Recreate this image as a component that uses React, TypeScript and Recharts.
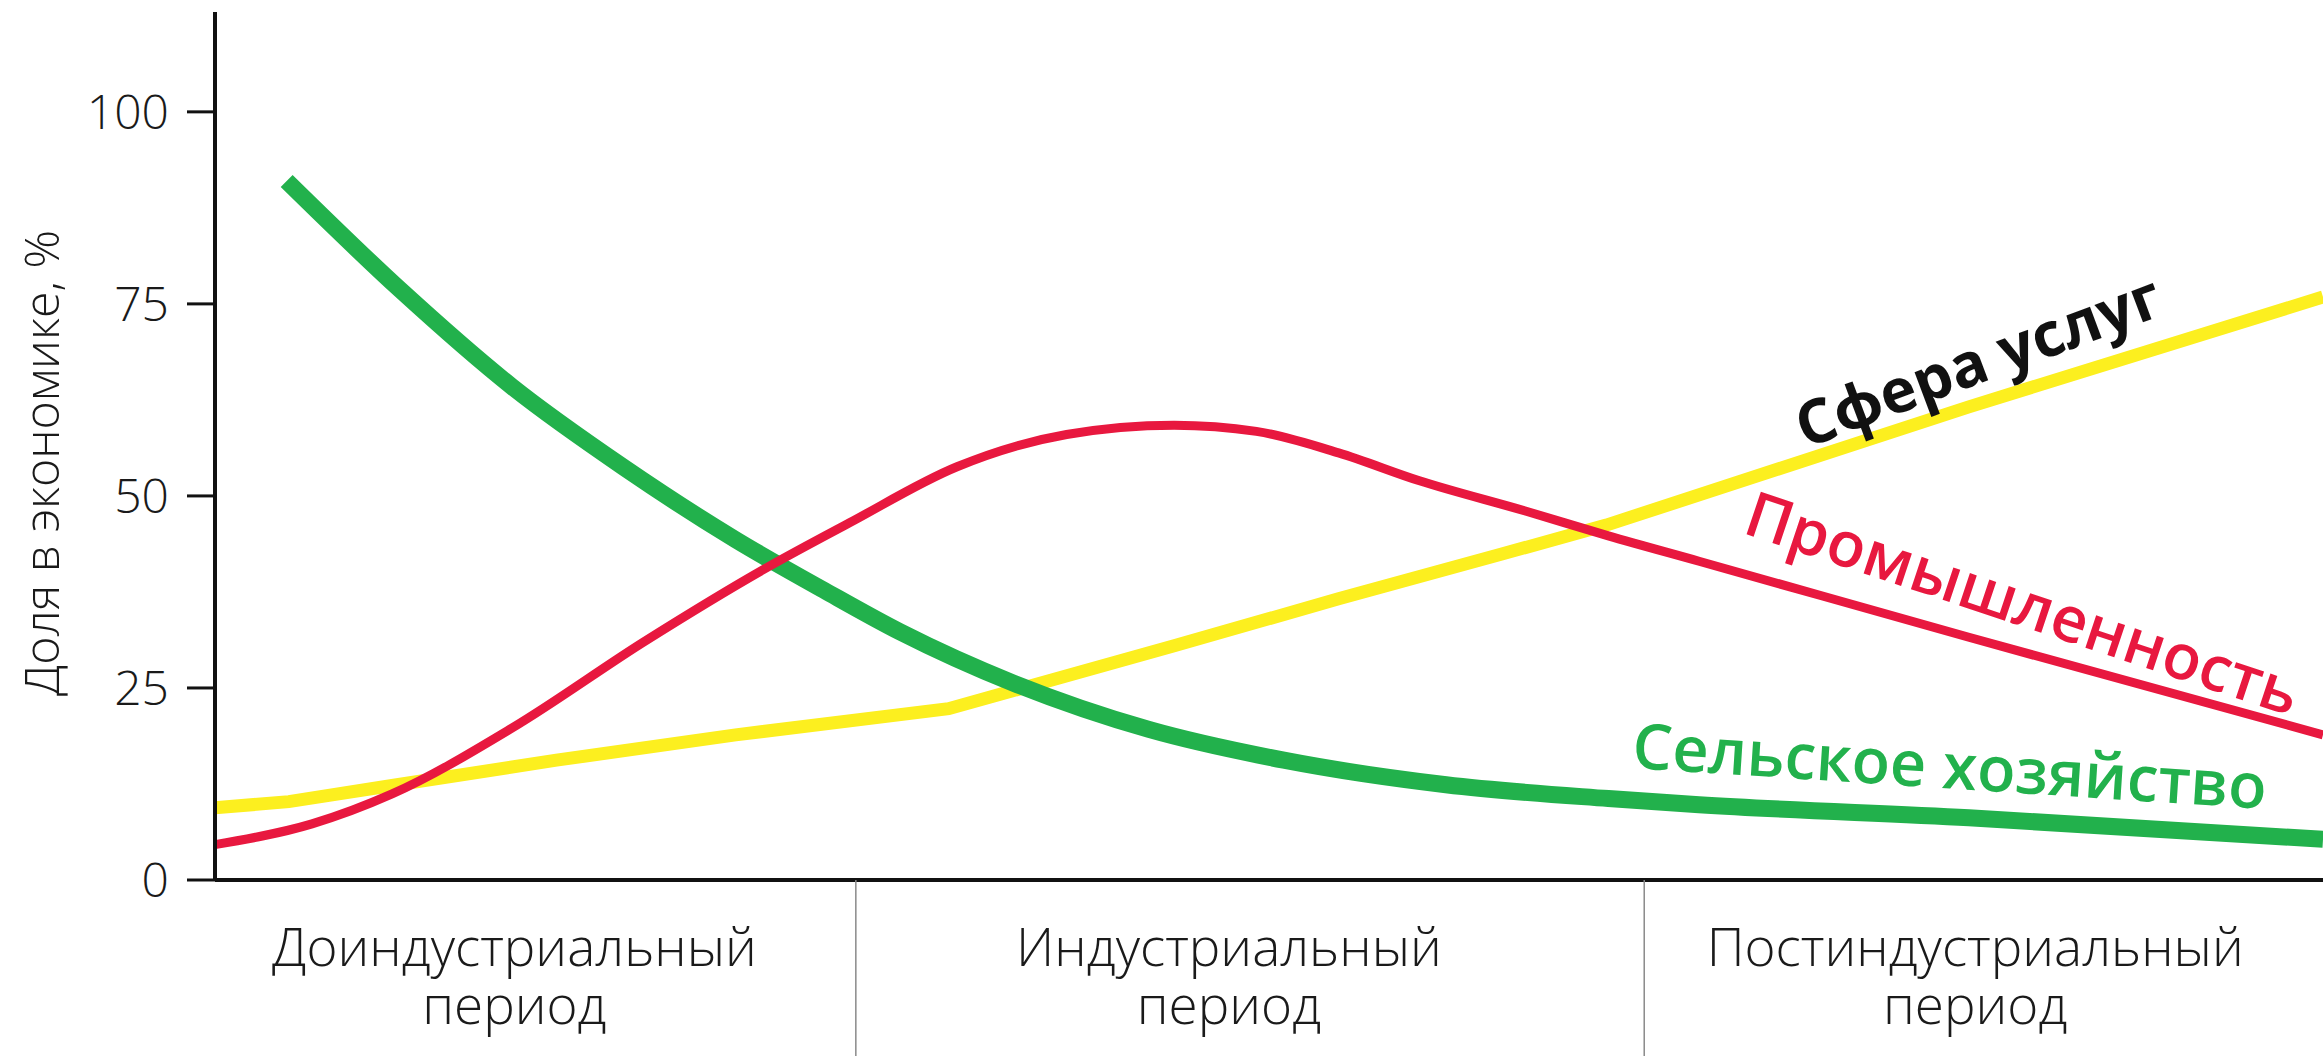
import { LineChart, Line, XAxis, YAxis, ReferenceDot } from "recharts";

document.body.style.margin = "0";
document.body.style.overflow = "hidden";

// values; x runs 0..100 across the three periods
const agriculture = [
  { x: 3.4, v: 91 }, { x: 8.8, v: 76.8 }, { x: 14.1, v: 64.2 }, { x: 19.4, v: 53.7 },
  { x: 24.7, v: 44.3 }, { x: 28.9, v: 37.7 }, { x: 32.5, v: 32.3 }, { x: 37.9, v: 25.6 },
  { x: 44.3, v: 19.6 }, { x: 50.7, v: 15.6 }, { x: 58.4, v: 12.4 }, { x: 66.1, v: 10.6 },
  { x: 70.4, v: 9.8 }, { x: 83.2, v: 8.1 }, { x: 100, v: 5.3 },
];

const industry = [
  { x: 0, v: 4.6 }, { x: 4.6, v: 7.3 }, { x: 8.4, v: 11.2 }, { x: 14.1, v: 19.8 },
  { x: 20.4, v: 31.1 }, { x: 26.2, v: 40.7 }, { x: 30.1, v: 46.5 }, { x: 35.2, v: 53.8 },
  { x: 40.4, v: 58 }, { x: 45.5, v: 59.2 }, { x: 49.4, v: 58.4 }, { x: 53.3, v: 55.6 },
  { x: 57.1, v: 52 }, { x: 62.2, v: 48 }, { x: 66.1, v: 44.8 }, { x: 70.4, v: 41.5 },
  { x: 83.2, v: 31.6 }, { x: 100, v: 18.9 },
];

const services = [
  { x: 0, v: 9.4 }, { x: 3.5, v: 10.2 }, { x: 8.4, v: 12.3 }, { x: 16.2, v: 15.6 },
  { x: 24.7, v: 18.9 }, { x: 34.8, v: 22.3 }, { x: 45.5, v: 30.5 },
  { x: 53.3, v: 36.6 }, { x: 61, v: 42.4 }, { x: 66, v: 46.2 }, { x: 83.2, v: 61.6 },
  { x: 100, v: 75.9 },
];

const yTicks = [0, 25, 50, 75, 100];
const periodCenters = [14.2, 48.1, 83.5];
const periodLabels = [
  ["Доиндустриальный", "период"],
  ["Индустриальный", "период"],
  ["Постиндустриальный", "период"],
];
const periodBorders = [30.4, 67.8];

const seriesNames = ["Сфера услуг", "Промышленность", "Сельское хозяйство"];

const GREEN = "#22b14c";
const RED = "#e8183f";
const YELLOW = "#fcef1f";
const LIGHT = "'Open Sans', 'DejaVu Sans', sans-serif";

function PeriodTick(props: any) {
  const { x, y, payload } = props;
  const i = periodCenters.indexOf(payload.value);
  if (i < 0) {
    return <line x1={x} x2={x} y1={y} y2={y + 180} stroke="#8a8a8a" strokeWidth={1.5} />;
  }
  const common = { x, textAnchor: "middle" as const, fontFamily: LIGHT, fontWeight: 300, fontSize: 53, fill: "#1a1a1a" };
  return (
    <g>
      <text {...common} y={y + 86}>{periodLabels[i][0]}</text>
      <text {...common} y={y + 144}>{periodLabels[i][1]}</text>
    </g>
  );
}

function seriesLabel(text: string, color: string, angle: number, weight: number, size: number) {
  return (p: any) => (
    <text
      x={p.cx}
      y={p.cy}
      textAnchor="middle"
      dominantBaseline="central"
      transform={`rotate(${angle} ${p.cx} ${p.cy})`}
      fontFamily="'Open Sans', sans-serif"
      fontWeight={weight}
      fontSize={size}
      fill={color}
    >
      {text}
    </text>
  );
}

export default function App() {
  return (
    <div style={{ width: 2323, height: 1056, background: "#fff" }}>
      <LineChart width={2323} height={1056} margin={{ top: 12, right: 0, left: 0, bottom: 0 }}>
        <XAxis
          dataKey="x"
          type="number"
          domain={[0, 100]}
          ticks={[...periodCenters, ...periodBorders].sort((a, b) => a - b)}
          interval={0}
          height={176}
          tickLine={false}
          tickSize={0}
          tickMargin={0}
          axisLine={{ stroke: "#111", strokeWidth: 4 }}
          tick={<PeriodTick />}
          allowDuplicatedCategory={false}
        />
        <YAxis
          type="number"
          domain={[0, 113]}
          ticks={yTicks}
          width={215}
          tickSize={28}
          tickMargin={18}
          tickLine={{ stroke: "#111", strokeWidth: 3 }}
          axisLine={{ stroke: "#111", strokeWidth: 4 }}
          tick={{ fontFamily: LIGHT, fontWeight: 300, fontSize: 48, fill: "#1a1a1a" }}
          label={{
            content: () => (
              <text
                x={40}
                y={463}
                textAnchor="middle"
                dominantBaseline="central"
                transform="rotate(-90 40 463)"
                fontFamily={LIGHT}
                fontWeight={300}
                fontSize={48}
                fill="#1a1a1a"
                textLength={466}
                lengthAdjust="spacingAndGlyphs"
              >
                Доля в экономике, %
              </text>
            ),
          }}
        />
        <Line data={services} dataKey="v" type="linear" stroke={YELLOW} strokeWidth={13} dot={false} activeDot={false} isAnimationActive={false} />
        <Line data={agriculture} dataKey="v" type="monotone" stroke={GREEN} strokeWidth={17} strokeLinecap="butt" dot={false} activeDot={false} isAnimationActive={false} />
        <Line data={industry} dataKey="v" type="monotone" stroke={RED} strokeWidth={9} dot={false} activeDot={false} isAnimationActive={false} />
        <ReferenceDot x={83.6} y={67.8} r={0} shape={seriesLabel(seriesNames[0], "#111", -20.5, 700, 61)} />
        <ReferenceDot x={85.8} y={36.3} r={0} shape={seriesLabel(seriesNames[1], RED, 18.5, 600, 63)} />
        <ReferenceDot x={82.3} y={15.1} r={0} shape={seriesLabel(seriesNames[2], GREEN, 3.7, 600, 63)} />
      </LineChart>
    </div>
  );
}
